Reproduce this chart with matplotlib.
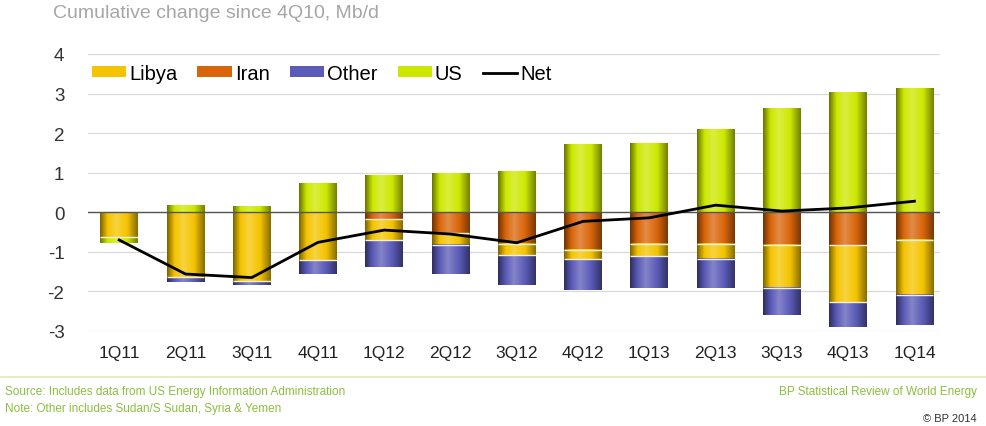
import numpy as np
import matplotlib
matplotlib.use("Agg")
import matplotlib.pyplot as plt
from matplotlib.colors import LinearSegmentedColormap, to_rgb
from matplotlib.patches import Patch
from matplotlib.lines import Line2D

plt.rcParams["font.family"] = ["Liberation Sans", "DejaVu Sans"]
plt.rcParams["axes.unicode_minus"] = False

quarters = ["1Q11", "2Q11", "3Q11", "4Q11", "1Q12", "2Q12", "3Q12",
            "4Q12", "1Q13", "2Q13", "3Q13", "4Q13", "1Q14"]
libya = [-0.62, -1.63, -1.74, -1.21, -0.53, -0.30, -0.28, -0.23, -0.32, -0.38, -1.09, -1.44, -1.39]
iran  = [0.00, 0.00, 0.00, 0.00, -0.18, -0.52, -0.80, -0.96, -0.79, -0.79, -0.82, -0.82, -0.69]
other = [0.00, -0.12, -0.09, -0.34, -0.68, -0.74, -0.75, -0.78, -0.80, -0.74, -0.69, -0.63, -0.77]
us    = [-0.15, 0.17, 0.14, 0.72, 0.93, 0.98, 1.03, 1.71, 1.73, 2.09, 2.61, 3.02, 3.13]
net   = [-0.70, -1.56, -1.65, -0.76, -0.45, -0.55, -0.77, -0.23, -0.14, 0.18, 0.03, 0.11, 0.28]

colors = {"Libya": "#f4c400", "Iran": "#d9650a", "Other": "#5b5bb8", "US": "#cde800"}
series = {"Libya": libya, "Iran": iran, "Other": other, "US": us}
# order segments are stacked away from zero
stack_order = ["Iran", "Libya", "US", "Other"]


def cyl_cmap(c):
    # dark rims, bright highlight slightly left of centre
    r = np.array(to_rgb(c))
    dark = r * 0.5
    light = np.clip(r + (1 - r) * 0.25, 0, 1)
    return LinearSegmentedColormap.from_list(
        "cyl", [(0, dark), (0.2, r), (0.42, light), (0.72, r), (1, dark * 1.1)])


fig = plt.figure(figsize=(9.87, 4.27), dpi=100)
ax = fig.add_axes([0.0892, 0.2225, 0.8628, 0.6487])

x = np.arange(len(quarters))
width = 0.57
grad = np.linspace(0, 1, 128)[None, :]
pos_base = np.zeros(len(x))
neg_base = np.zeros(len(x))
for name in stack_order:
    vals = np.array(series[name])
    bottoms = np.where(vals >= 0, pos_base, neg_base)
    bars = ax.bar(x, vals, width, bottom=bottoms, facecolor="none",
                  edgecolor="none", zorder=3)
    cmap = cyl_cmap(colors[name])
    for b in bars:
        h = b.get_height()
        if h == 0:
            continue
        y0, y1 = sorted([b.get_y(), b.get_y() + h])
        ax.imshow(grad, cmap=cmap, aspect="auto", zorder=2,
                  extent=[b.get_x(), b.get_x() + b.get_width(), y0, y1])
    # pale seam where this segment meets the one stacked before it
    seam = (vals != 0) & (bottoms != 0)
    ax.hlines(bottoms[seam], x[seam] - width / 2, x[seam] + width / 2,
              color="#f6f0d0", lw=1.0, zorder=3)
    pos_base += np.where(vals >= 0, vals, 0)
    neg_base += np.where(vals < 0, vals, 0)

ax.plot(x, net, color="black", lw=2.0, zorder=5)
ax.axhline(0, color="#555555", lw=1.0, zorder=4)

ax.set_xlim(-0.47, 12.38)
ax.set_ylim(-3, 4)
ax.set_yticks(range(-3, 5))
ax.yaxis.grid(True, color="#d9d9d9", lw=0.9)
ax.set_axisbelow(True)
for s in ax.spines.values():
    s.set_visible(False)
ax.tick_params(axis="both", length=0)
ax.tick_params(axis="y", labelsize=13.5, labelcolor="#333333", pad=17)
ax.set_xticks(x)
ax.set_xticklabels(quarters, fontsize=12.5, color="#222222",
                   family=["Liberation Sans Narrow", "Liberation Sans"])
ax.tick_params(axis="x", pad=10)

handles = [Patch(facecolor=colors[n], edgecolor="none") for n in ["Libya", "Iran", "Other", "US"]]
handles.append(Line2D([], [], color="black", lw=2))
ax.legend(handles, ["Libya", "Iran", "Other", "US", "Net"], ncol=5, frameon=False,
          loc="center left", bbox_to_anchor=(-0.005, 0.93), fontsize=14.5,
          handlelength=1.7, handleheight=0.45, handletextpad=0.15,
          columnspacing=1.0, borderaxespad=0)

fig.text(53 / 987, 1 - 13 / 427, "Cumulative change since 4Q10, Mb/d",
         fontsize=14, color="#a6a6a6", va="center")

fig.add_artist(Line2D([0, 1], [1 - 378 / 427] * 2, color="#dfeabf", lw=1.2))
green = "#8cbf3f"
fig.text(5 / 987, 1 - 392 / 427, "Source: Includes data from US Energy Information Administration",
         fontsize=8.5, color=green, va="center")
fig.text(5 / 987, 1 - 409 / 427, "Note: Other includes Sudan/S Sudan, Syria & Yemen",
         fontsize=8.5, color=green, va="center")
fig.text(977 / 987, 1 - 392 / 427, "BP Statistical Review of World Energy",
         fontsize=8.5, color=green, va="center", ha="right")
fig.text(977 / 987, 1 - 419 / 427, "© BP 2014",
         fontsize=8, color="#333333", va="center", ha="right")

fig.savefig("out.png", dpi=100)
